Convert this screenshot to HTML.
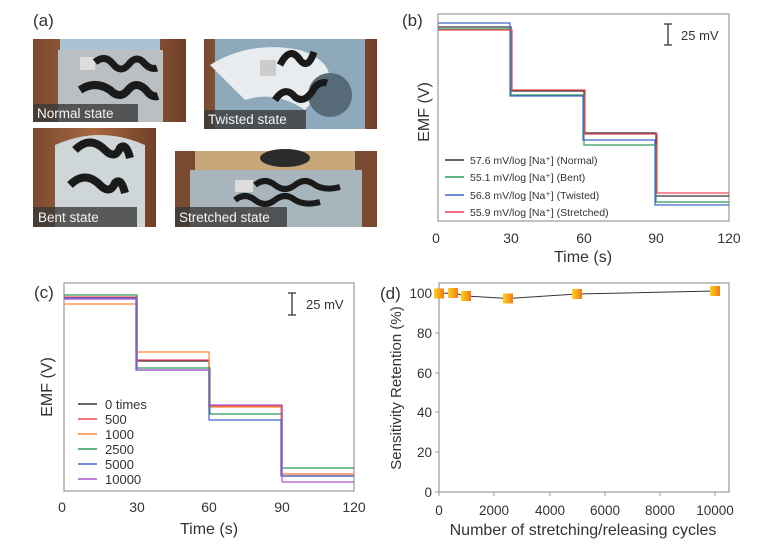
<!DOCTYPE html>
<html><head><meta charset="utf-8"><style>
html,body{margin:0;padding:0;background:#fff;}
svg{display:block;font-family:"Liberation Sans",Arial,sans-serif;}
</style></head><body>
<svg width="764" height="557" viewBox="0 0 764 557" xmlns="http://www.w3.org/2000/svg">
<rect width="764" height="557" fill="#fff"/>
<!-- (a) photos -->
<text x="33" y="26" font-size="17" fill="#333">(a)</text>
<defs>
<linearGradient id="wood" x1="0" x2="1"><stop offset="0" stop-color="#7a4a30"/><stop offset="0.5" stop-color="#a8683f"/><stop offset="1" stop-color="#6e3f28"/></linearGradient>
</defs>
<!-- Normal -->
<g>
<rect x="33" y="39" width="153" height="83" fill="url(#wood)"/>
<rect x="60" y="39" width="100" height="83" fill="#a9c3d3"/>
<rect x="58" y="50" width="105" height="72" fill="#b9bfc2"/>
<rect x="80" y="57" width="15" height="13" fill="#ddd"/>
<path d="M95 62 q10 -8 18 2 q8 10 16 0 q8 -10 16 0 q6 6 12 4" stroke="#1a1a1a" stroke-width="7" fill="none"/>
<path d="M80 90 q15 -10 30 0 q10 10 18 0 q8 -10 18 0 q6 8 12 6" stroke="#1a1a1a" stroke-width="8" fill="none"/>
<rect x="33" y="104" width="105" height="18" fill="#3a3a3a" opacity="0.8"/>
<text x="37" y="118" font-size="13.5" fill="#f4f4f4">Normal state</text>
</g>
<!-- Twisted -->
<g>
<rect x="204" y="39" width="173" height="90" fill="url(#wood)"/>
<rect x="215" y="39" width="150" height="90" fill="#8fa9bc"/>
<path d="M210 65 q40 -25 90 -15 q30 10 30 30 l-25 30 q-30 -20 -60 -10 z" fill="#e8ecee"/>
<circle cx="330" cy="95" r="22" fill="#566a78"/>
<rect x="260" y="60" width="16" height="16" fill="#ccc"/>
<path d="M280 65 q10 -20 20 -5 q8 10 14 -8" stroke="#1a1a1a" stroke-width="7" fill="none"/>
<path d="M275 100 q10 -15 20 -3 q10 8 20 -10 q6 -6 12 -4" stroke="#1a1a1a" stroke-width="7" fill="none"/>
<rect x="204" y="110" width="102" height="19" fill="#3a3a3a" opacity="0.8"/>
<text x="208" y="124" font-size="13.5" fill="#f4f4f4">Twisted state</text>
</g>
<!-- Bent -->
<g>
<rect x="33" y="128" width="123" height="99" fill="url(#wood)"/>
<path d="M55 145 q45 -20 90 0 l0 82 l-90 0 z" fill="#cfd6d8"/>
<path d="M75 150 q15 -15 30 0 q10 10 15 -2 q6 -6 10 10" stroke="#1a1a1a" stroke-width="8" fill="none"/>
<path d="M70 185 q15 -15 30 0 q10 10 15 -2 q6 -6 10 10" stroke="#1a1a1a" stroke-width="8" fill="none"/>
<rect x="33" y="207" width="104" height="20" fill="#3a3a3a" opacity="0.8"/>
<text x="38" y="222" font-size="13.5" fill="#f4f4f4">Bent state</text>
</g>
<!-- Stretched -->
<g>
<rect x="175" y="151" width="202" height="76" fill="#c7a77a"/>
<rect x="175" y="151" width="20" height="76" fill="#7a4a30"/>
<rect x="355" y="151" width="22" height="76" fill="#7a4a30"/>
<ellipse cx="285" cy="158" rx="25" ry="9" fill="#2b2b2b"/>
<rect x="190" y="170" width="172" height="57" fill="#a8b5bd"/>
<rect x="235" y="180" width="18" height="12" fill="#ddd"/>
<path d="M255 185 q10 -8 20 0 q10 8 20 0 q10 -8 20 0 q10 6 25 2" stroke="#1a1a1a" stroke-width="6" fill="none"/>
<path d="M235 200 q10 -8 20 0 q10 8 20 0 q10 -8 20 0 q10 6 25 2" stroke="#1a1a1a" stroke-width="6" fill="none"/>
<rect x="175" y="207" width="112" height="20" fill="#3a3a3a" opacity="0.8"/>
<text x="179" y="222" font-size="13.5" fill="#f4f4f4">Stretched state</text>
</g>

<!-- (b) -->
<text x="402" y="26" font-size="17" fill="#333">(b)</text>
<rect x="438" y="14" width="291" height="207" fill="none" stroke="#999" stroke-width="1.2"/>
<g fill="none" stroke-width="1.2">
<path d="M438 27 H511 V91 H584 V133 H656 V196 H729" stroke="#333"/>
<path d="M438 29 H511 V95 H584 V145 H656 V202 H729" stroke="#2e9a5a"/>
<path d="M438 23 H510 V96 H583 V140 H655 V205 H729" stroke="#4466cc"/>
<path d="M438 30 H512 V90 H585 V134 H657 V193 H729" stroke="#ee4455"/>
</g>
<path d="M664 24 H672 M668 24 V45 M664 45 H672" stroke="#333" stroke-width="1.3"/>
<text x="681" y="40" font-size="13" fill="#333">25 mV</text>
<g font-size="10.5" fill="#333">
<line x1="445" y1="160" x2="464" y2="160" stroke="#333" stroke-width="1.5"/><text x="470" y="164">57.6 mV/log [Na⁺] (Normal)</text>
<line x1="445" y1="177" x2="464" y2="177" stroke="#2e9a5a" stroke-width="1.5"/><text x="470" y="181">55.1 mV/log [Na⁺] (Bent)</text>
<line x1="445" y1="195" x2="464" y2="195" stroke="#4466cc" stroke-width="1.5"/><text x="470" y="199">56.8 mV/log [Na⁺] (Twisted)</text>
<line x1="445" y1="212" x2="464" y2="212" stroke="#ee4455" stroke-width="1.5"/><text x="470" y="216">55.9 mV/log [Na⁺] (Stretched)</text>
</g>
<g font-size="14" fill="#333" text-anchor="middle">
<text x="436" y="243">0</text><text x="511" y="243">30</text><text x="584" y="243">60</text><text x="656" y="243">90</text><text x="729" y="243">120</text>
<text x="583" y="262" font-size="16">Time (s)</text>
<text transform="translate(429,112) rotate(-90)" font-size="16">EMF (V)</text>
</g>

<!-- (c) -->
<text x="34" y="298" font-size="17" fill="#333">(c)</text>
<rect x="64" y="283" width="290" height="208" fill="none" stroke="#999" stroke-width="1.2"/>
<g fill="none" stroke-width="1.2">
<path d="M64 298 H137 V361 H209 V406 H282 V476 H354" stroke="#333"/>
<path d="M64 297 H137 V360 H209 V406 H282 V474 H354" stroke="#ee4455"/>
<path d="M64 304 H136 V352 H209 V407 H281 V474 H354" stroke="#ff8833"/>
<path d="M64 295 H137 V368 H210 V414 H282 V468 H354" stroke="#2e9a5a"/>
<path d="M64 298 H136 V370 H209 V420 H281 V476 H354" stroke="#4466cc"/>
<path d="M64 299 H137 V370 H209 V405 H282 V482 H354" stroke="#aa55cc"/>
</g>
<path d="M288 293 H296 M292 293 V315 M288 315 H296" stroke="#333" stroke-width="1.3"/>
<text x="306" y="309" font-size="13" fill="#333">25 mV</text>
<g font-size="13" fill="#333">
<line x1="78" y1="404" x2="97" y2="404" stroke="#333" stroke-width="1.5"/><text x="105" y="409">0 times</text>
<line x1="78" y1="419" x2="97" y2="419" stroke="#ee4455" stroke-width="1.5"/><text x="105" y="424">500</text>
<line x1="78" y1="434" x2="97" y2="434" stroke="#ff8833" stroke-width="1.5"/><text x="105" y="439">1000</text>
<line x1="78" y1="449" x2="97" y2="449" stroke="#2e9a5a" stroke-width="1.5"/><text x="105" y="454">2500</text>
<line x1="78" y1="464" x2="97" y2="464" stroke="#4466cc" stroke-width="1.5"/><text x="105" y="469">5000</text>
<line x1="78" y1="479" x2="97" y2="479" stroke="#aa55cc" stroke-width="1.5"/><text x="105" y="484">10000</text>
</g>
<g font-size="14" fill="#333" text-anchor="middle">
<text x="62" y="512">0</text><text x="137" y="512">30</text><text x="209" y="512">60</text><text x="282" y="512">90</text><text x="354" y="512">120</text>
<text x="209" y="534" font-size="16">Time (s)</text>
<text transform="translate(52,387) rotate(-90)" font-size="16">EMF (V)</text>
</g>

<!-- (d) -->
<text x="380" y="299" font-size="17" fill="#333">(d)</text>
<rect x="439" y="283" width="290" height="209" fill="none" stroke="#999" stroke-width="1.2"/>
<g stroke="#999" stroke-width="1">
<line x1="435" y1="492" x2="439" y2="492"/><line x1="435" y1="452" x2="439" y2="452"/><line x1="435" y1="412" x2="439" y2="412"/><line x1="435" y1="373" x2="439" y2="373"/><line x1="435" y1="333" x2="439" y2="333"/><line x1="435" y1="293" x2="439" y2="293"/>
<line x1="494" y1="492" x2="494" y2="496"/><line x1="550" y1="492" x2="550" y2="496"/><line x1="605" y1="492" x2="605" y2="496"/><line x1="660" y1="492" x2="660" y2="496"/><line x1="715" y1="492" x2="715" y2="496"/><line x1="439" y1="492" x2="439" y2="496"/>
</g>
<g font-size="13.5" fill="#333" text-anchor="end">
<text x="432" y="497">0</text><text x="432" y="457">20</text><text x="432" y="417">40</text><text x="432" y="378">60</text><text x="432" y="338">80</text><text x="432" y="298">100</text>
</g>
<g font-size="13.5" fill="#333" text-anchor="middle">
<text x="439" y="515">0</text><text x="494" y="515">2000</text><text x="550" y="515">4000</text><text x="605" y="515">6000</text><text x="660" y="515">8000</text><text x="715" y="515">10000</text>
<text x="583" y="535" font-size="16">Number of stretching/releasing cycles</text>
<text transform="translate(401,388) rotate(-90)" font-size="15">Sensitivity Retention (%)</text>
</g>
<defs><linearGradient id="sq" x1="0" x2="1"><stop offset="0" stop-color="#ffd21a"/><stop offset="1" stop-color="#f07a1a"/></linearGradient></defs>
<polyline points="439,293.5 453,293 466,296 508,298.5 577,294 715,291" fill="none" stroke="#333" stroke-width="1"/>
<g fill="url(#sq)">
<rect x="434" y="288.5" width="10" height="10"/><rect x="448" y="288" width="10" height="10"/><rect x="461" y="291" width="10" height="10"/><rect x="503" y="293.5" width="10" height="10"/><rect x="572" y="289" width="10" height="10"/><rect x="710" y="286" width="10" height="10"/>
</g>
</svg>
</body></html>
